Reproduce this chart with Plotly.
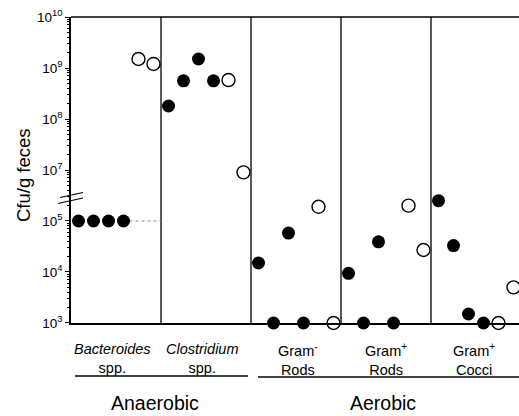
import plotly.graph_objects as go

# ---------------- data ----------------
group_labels = [
    "<i>Bacteroides</i><br>spp.",
    "<i>Clostridium</i><br>spp.",
    "Gram<sup>-</sup><br>Rods",
    "Gram<sup>+</sup><br>Rods",
    "Gram<sup>+</sup><br>Cocci",
]
# six subjects per group: slots 0-3 filled symbols, slots 4-5 open symbols
filled_values = [
    [1e5, 1e5, 1e5, 1e5],
    [1.8e8, 5.6e8, 1.5e9, 5.6e8],
    [1.5e4, 1e3, 5.8e4, 1e3],
    [9.4e3, 1e3, 3.9e4, 1e3],
    [2.5e5, 3.3e4, 1.5e3, 1e3],
]
open_values = [
    [1.5e9, 1.2e9],
    [5.8e8, 9e6],
    [1.9e5, 1e3],
    [2.0e5, 2.7e4],
    [1e3, 5e3],
]
lower_ticks = [1e3, 1e4, 1e5]
lower_ticktext = ["10<sup>3</sup>", "10<sup>4</sup>", "10<sup>5</sup>"]
upper_ticks = [1e7, 1e8, 1e9, 1e10]
upper_ticktext = ["10<sup>7</sup>", "10<sup>8</sup>", "10<sup>9</sup>", "10<sup>10</sup>"]
supergroups = ["Anaerobic", "Aerobic"]

# ---------------- layout constants ----------------
W, H = 519, 416
L, T, B = 71, 17, 93
PW, PH = W - L, H - T - B          # plot width/height in px
PX_PER_GROUP = 90.0
LOW_RANGE = [2.9999, 5.5]
UP_RANGE = [6.5, 10.0001]
split = (LOW_RANGE[1] - LOW_RANGE[0]) / ((LOW_RANGE[1] - LOW_RANGE[0]) + (UP_RANGE[1] - UP_RANGE[0]))
BREAK_VALUE = 10 ** 6
FONT = "Arial, Liberation Sans, sans-serif"

def px_x(xp):
    return (xp - L) / PW

def px_y(yp):
    return (T + PH - yp) / PH

def slot_x(g, k):
    return g + (k + 0.5) / 6.0

fig = go.Figure()

def add_points(values, slot_offset, filled):
    for axis, keep in (("y", lambda v: v < BREAK_VALUE), ("y2", lambda v: v >= BREAK_VALUE)):
        xs, ys = [], []
        for g, vals in enumerate(values):
            for k, v in enumerate(vals):
                if keep(v):
                    xs.append(slot_x(g, k + slot_offset))
                    ys.append(v)
        fig.add_trace(go.Scatter(
            x=xs, y=ys, xaxis="x", yaxis=axis, mode="markers", cliponaxis=False,
            showlegend=False,
            marker=dict(size=13,
                        color="black" if filled else "white",
                        line=dict(color="black", width=0 if filled else 1.4)),
        ))

# dotted reference line at Bacteroides level
fig.add_trace(go.Scatter(x=[slot_x(0, 3), 1], y=[filled_values[0][3]] * 2, xaxis="x", yaxis="y",
                         mode="lines", line=dict(color="#888", width=1, dash="dot"),
                         showlegend=False, hoverinfo="skip"))

add_points(filled_values, 0, True)
add_points(open_values, 4, False)

shapes = []
# group separators
for g in range(1, len(group_labels)):
    shapes.append(dict(type="line", xref="x", yref="paper", x0=g, x1=g, y0=0, y1=1,
                       line=dict(color="#222", width=1.5), layer="below"))
# top border
shapes.append(dict(type="line", xref="paper", yref="paper", x0=0, x1=1, y0=1, y1=1,
                   line=dict(color="black", width=1.5)))
# axis break marks
shapes.append(dict(type="line", xref="paper", yref="paper", x0=px_x(60), y0=px_y(197.5),
                   x1=px_x(83), y1=px_y(192.5), line=dict(color="black", width=1.2)))
shapes.append(dict(type="line", xref="paper", yref="paper", x0=px_x(58), y0=px_y(203.5),
                   x1=px_x(83), y1=px_y(198), line=dict(color="black", width=1.2)))
# underlines of supergroups
shapes.append(dict(type="line", xref="paper", yref="paper", x0=px_x(75), x1=px_x(248),
                   y0=px_y(376), y1=px_y(376), line=dict(color="black", width=1.5)))
shapes.append(dict(type="line", xref="paper", yref="paper", x0=px_x(258), x1=1.0,
                   y0=px_y(377), y1=px_y(377), line=dict(color="black", width=1.5)))

annotations = []
label_shift = [-4, -4, 2, 0, -2]
for g, lab in enumerate(group_labels):
    annotations.append(dict(x=g + 0.5, y=px_y(339), xref="x", yref="paper", text=lab,
                            showarrow=False, yanchor="top", xanchor="center",
                            xshift=label_shift[g],
                            font=dict(family=FONT, size=14.5, color="black")))
for name, xc in zip(supergroups, [155, 383]):
    annotations.append(dict(x=px_x(xc), y=px_y(403), xref="paper", yref="paper", text=name,
                            showarrow=False, yanchor="middle", xanchor="center",
                            font=dict(family=FONT, size=19.5, color="black")))
annotations.append(dict(x=px_x(24), y=px_y(175), xref="paper", yref="paper", text="Cfu/g feces",
                        showarrow=False, textangle=-90, xanchor="center", yanchor="middle",
                        font=dict(family=FONT, size=18.5, color="black")))

def minor_vals(lo, hi):
    out = []
    for e in range(int(lo) - 1, int(hi) + 1):
        for m in range(2, 10):
            v = m * 10 ** e
            if 10 ** lo < v < 10 ** hi:
                out.append(v)
    return out

common_y = dict(type="log", showline=True, linecolor="black", linewidth=1.5, ticks="outside",
                ticklen=4, tickwidth=1, tickcolor="black", showgrid=False, zeroline=False,
                automargin=False,
                tickfont=dict(family=FONT, size=13.5, color="black"), anchor="x")

fig.update_layout(
    width=W, height=H,
    margin=dict(l=L, r=0, t=T, b=B, pad=0, autoexpand=False),
    paper_bgcolor="white", plot_bgcolor="white",
    xaxis=dict(range=[0, PW / PX_PER_GROUP], showline=True, linecolor="black", linewidth=1.5,
               showticklabels=False, ticks="", showgrid=False, zeroline=False, anchor="y",
               automargin=False),
    yaxis=dict(domain=[0, split], range=LOW_RANGE, tickvals=lower_ticks, ticktext=lower_ticktext,
               minor=dict(tickvals=minor_vals(*LOW_RANGE), ticks="outside", ticklen=2,
                          tickcolor="black", showgrid=False),
               **common_y),
    yaxis2=dict(domain=[split, 1], range=UP_RANGE, tickvals=upper_ticks, ticktext=upper_ticktext,
                minor=dict(tickvals=minor_vals(*UP_RANGE), ticks="outside", ticklen=2,
                           tickcolor="black", showgrid=False),
                **common_y),
    shapes=shapes,
    annotations=annotations,
    showlegend=False,
)

fig.write_html("out.html", config={"displayModeBar": False},
               post_script="document.body.style.margin='0px';document.body.style.padding='0px';")
